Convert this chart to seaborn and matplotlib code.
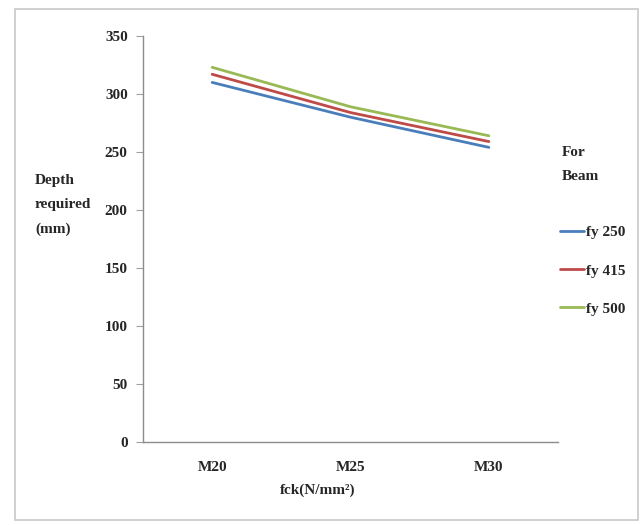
import pandas as pd
import matplotlib
matplotlib.use("Agg")
import matplotlib.pyplot as plt
from matplotlib.patches import Rectangle
import seaborn as sns

# data
grades = ["M20", "M25", "M30"]
fy_250 = [310, 280, 254]
fy_415 = [317, 284, 259]
fy_500 = [323, 289, 264]
series_names = ["fy 250", "fy 415", "fy 500"]
colors = ["#4a7ebb", "#be4b48", "#98b954"]
y_ticks = [0, 50, 100, 150, 200, 250, 300, 350]

df = pd.DataFrame({
    "grade": grades * 3,
    "depth": fy_250 + fy_415 + fy_500,
    "steel": [s for s in series_names for _ in grades],
})
df["pos"] = df["grade"].map({g: i for i, g in enumerate(grades)})

sns.set_style("white")
plt.rcParams["font.family"] = ["Liberation Serif", "DejaVu Serif"]
plt.rcParams["font.weight"] = "bold"
fs = 11

fig = plt.figure(figsize=(6.43, 5.25), dpi=100)
ax = fig.add_axes([143 / 643, 1 - 442 / 525, 415 / 643, 406 / 525])

sns.lineplot(data=df, x="pos", y="depth", hue="steel", palette=colors,
             linewidth=2, ax=ax, legend=False)

ax.set_xlim(-0.5, 2.5)
ax.set_ylim(0, 350)
ax.set_yticks(y_ticks)
ax.set_yticklabels([str(v) for v in y_ticks], fontsize=fs, fontweight="bold")
ax.set_xticks(range(len(grades)))
ax.set_xticklabels(grades, fontsize=fs, fontweight="bold")
ax.set_xticks([-0.5, 0.5, 1.5, 2.5], minor=True)
ax.tick_params(axis="x", which="major", length=0, pad=14)
ax.tick_params(axis="x", which="minor", length=5, color="#a0a0a0", direction="out")
ax.tick_params(axis="y", length=5, color="#a0a0a0", direction="out", pad=6, left=True)
for side in ["top", "right"]:
    ax.spines[side].set_visible(False)
for side in ["left", "bottom"]:
    ax.spines[side].set_color("#8c8c8c")
    ax.spines[side].set_linewidth(1)

ax.set_xlabel("")
ax.set_ylabel("")
fig.text(318 / 643, 1 - 490 / 525, "fck(N/mm²)", ha="center", va="center",
         fontsize=fs, fontweight="bold")
fig.text(35 / 643, 1 - 205 / 525, "Depth\nrequired\n(mm)", ha="left", va="center",
         fontsize=fs, fontweight="bold", linespacing=2.1)
fig.text(562 / 643, 1 - 165 / 525, "For\nBeam", ha="left", va="center",
         fontsize=fs, fontweight="bold", linespacing=2.1)

handles = [plt.Line2D([], [], color=c, linewidth=2) for c in colors]
fig.legend(handles, series_names, loc="upper left",
           bbox_to_anchor=(546 / 643, 1 - 212 / 525), frameon=False,
           handlelength=1.6, handletextpad=0.15, labelspacing=1.6,
           prop={"size": fs, "weight": "bold"})

fig.patches.append(Rectangle((15 / 643, 1 - 520 / 525), 623 / 643, 511 / 525,
                             transform=fig.transFigure, fill=False,
                             edgecolor="#c8c8c8", linewidth=1.2))

fig.savefig("out.png", dpi=100)
